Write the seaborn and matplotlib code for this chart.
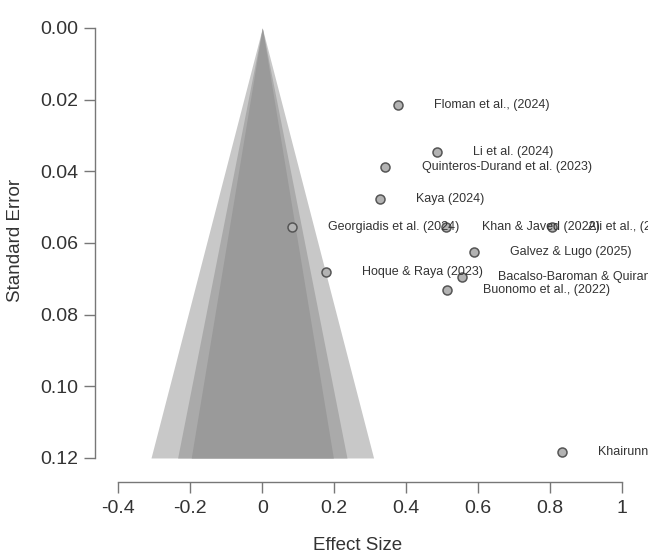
import numpy as np
import pandas as pd
import seaborn as sns
import matplotlib.pyplot as plt

# study estimates
studies = ["Floman et al., (2024)", "Li et al. (2024)", "Quinteros-Durand et al. (2023)",
           "Kaya (2024)", "Georgiadis et al. (2024)", "Khan & Javed (2022)",
           "Ali et al., (2023)", "Galvez & Lugo (2025)", "Hoque & Raya (2023)",
           "Bacalso-Baroman & Quirante (2024)", "Buonomo et al., (2022)",
           "Khairunnisa et al. (2023)"]
effect = [0.378, 0.486, 0.342, 0.328, 0.083, 0.511, 0.805, 0.588, 0.178, 0.554, 0.514, 0.832]
se = [0.0215, 0.0345, 0.0388, 0.0477, 0.0555, 0.0555, 0.0555, 0.0624, 0.0680, 0.0696, 0.0731, 0.1182]

# contour levels (99, 95, 90 %) and their shades
z_levels = [2.576, 1.960, 1.645]
shades = ["#c8c8c8", "#aaaaaa", "#9a9a9a"]
se_max = 0.12

df = pd.DataFrame({"study": studies, "effect": effect, "se": se})

sns.set_theme(style="white")
plt.rcParams['font.family'] = ['Liberation Sans', 'DejaVu Sans']

fig = plt.figure(figsize=(6.48, 5.55), dpi=100)
ax = fig.add_axes([95/648, 1 - 482/555, 553/648, 482/555])

se_line = np.array([0, se_max])
for z, col in zip(z_levels, shades):
    ax.fill_betweenx(se_line, -z*se_line, z*se_line, color=col, lw=0, zorder=1)

sns.scatterplot(data=df, x="effect", y="se", ax=ax, s=42, color="#b3b3b3",
                edgecolor="#555555", linewidth=1.1, zorder=3)

for _, r in df.iterrows():
    ax.annotate(r["study"], (r["effect"], r["se"]), xytext=(26, 0),
                textcoords="offset points", va="center", ha="left",
                fontsize=9, color="#333333", zorder=4, annotation_clip=False)

ax.set_xlim(-0.4647, 1.0714)
ax.set_ylim(0.1267, -0.0078)
ax.set_xticks([-0.4, -0.2, 0, 0.2, 0.4, 0.6, 0.8, 1])
ax.set_xticklabels(["-0.4", "-0.2", "0", "0.2", "0.4", "0.6", "0.8", "1"])
ax.set_yticks([0, 0.02, 0.04, 0.06, 0.08, 0.10, 0.12])
ax.set_yticklabels(["0.00", "0.02", "0.04", "0.06", "0.08", "0.10", "0.12"])

for s in ["top", "right"]:
    ax.spines[s].set_visible(False)
ax.spines["left"].set_bounds(0, 0.12)
ax.spines["bottom"].set_bounds(-0.4, 1)
for s in ["left", "bottom"]:
    ax.spines[s].set_color("#777777")
    ax.spines[s].set_linewidth(1)

ax.tick_params(axis="both", direction="out", length=8, width=1, color="#777777",
               labelsize=14, labelcolor="#333333")
ax.tick_params(axis="y", pad=4, left=True)
ax.tick_params(axis="x", pad=5, bottom=True)

ax.set_xlabel("Effect Size", fontsize=13.5, color="#333333")
ax.set_ylabel("Standard Error", fontsize=13.5, color="#333333")
ax.xaxis.set_label_coords((358-95)/553, (482-545)/482)
ax.xaxis.label.set_va("center")
ax.yaxis.set_label_coords((15-95)/553, (482-240)/482)
ax.yaxis.label.set_va("center")

fig.savefig("out.png", dpi=100)
